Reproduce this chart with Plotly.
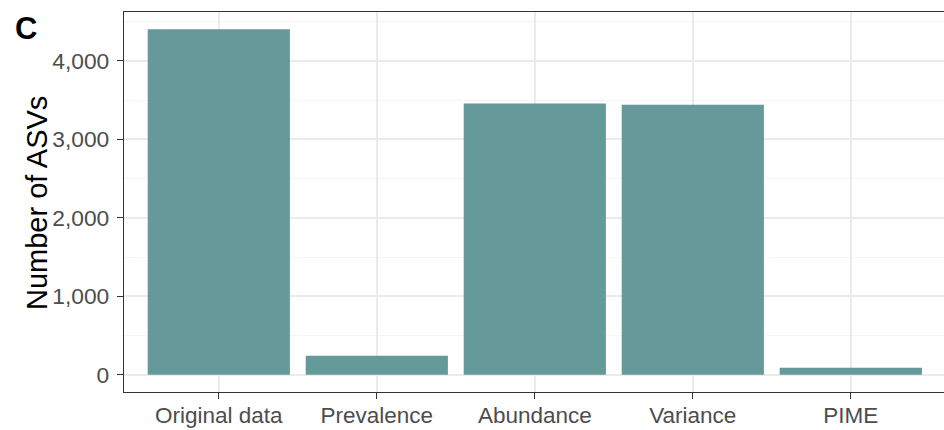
import plotly.graph_objects as go

categories = ["Original data", "Prevalence", "Abundance", "Variance", "PIME"]
asv_counts = [4403, 241, 3456, 3440, 89]
y_ticks = [0, 1000, 2000, 3000, 4000]
y_tick_labels = ["0", "1,000", "2,000", "3,000", "4,000"]

bar_color = "#669999"
font_family = "Liberation Sans, Arial, sans-serif"

fig = go.Figure(go.Bar(
    x=list(range(1, len(categories) + 1)),
    y=asv_counts,
    width=0.9,
    marker=dict(color=bar_color, line=dict(width=0)),
))

fig.update_layout(
    width=944, height=430,
    margin=dict(l=124, r=0, t=12, b=38),
    paper_bgcolor="white", plot_bgcolor="white",
    showlegend=False,
    font=dict(family=font_family),
    xaxis=dict(
        range=[0.4, 0.4 + 820 / 158],
        tickvals=list(range(1, len(categories) + 1)),
        ticktext=categories,
        tickfont=dict(size=22.5, color="#4D4D4D"),
        ticklabelstandoff=-3,
        automargin=False,
        showgrid=True, gridcolor="#EBEBEB", gridwidth=1.6,
        showline=True, linecolor="#333333", linewidth=1.3, mirror=True,
        ticks="outside", ticklen=6, tickcolor="#333333", tickwidth=1.3,
        zeroline=False, fixedrange=True,
    ),
    yaxis=dict(
        range=[-220, 4623],
        tickvals=y_ticks,
        ticktext=y_tick_labels,
        tickfont=dict(size=22.8, color="#4D4D4D"),
        ticklabelstandoff=3,
        automargin=False,
        showgrid=True, gridcolor="#EBEBEB", gridwidth=1.6,
        minor=dict(dtick=500, tick0=0, showgrid=True, gridcolor="#F5F5F5", gridwidth=0.8),
        showline=True, linecolor="#333333", linewidth=1.3,
        ticks="outside", ticklen=6, tickcolor="#333333", tickwidth=1.3,
        zeroline=False, fixedrange=True,
    ),
    annotations=[
        dict(text="Number of ASVs", textangle=-90, xref="paper", yref="paper",
             x=(37 - 124) / 820, y=(392 - 203) / 380, xanchor="center", yanchor="middle",
             showarrow=False, font=dict(size=29, color="black")),
        dict(text="<b>C</b>", xref="paper", yref="paper",
             x=(13 - 124) / 820, y=(392 - 28) / 380, xanchor="left", yanchor="middle",
             showarrow=False, font=dict(size=31, color="black")),
    ],
)

fig.write_html("out.html")
